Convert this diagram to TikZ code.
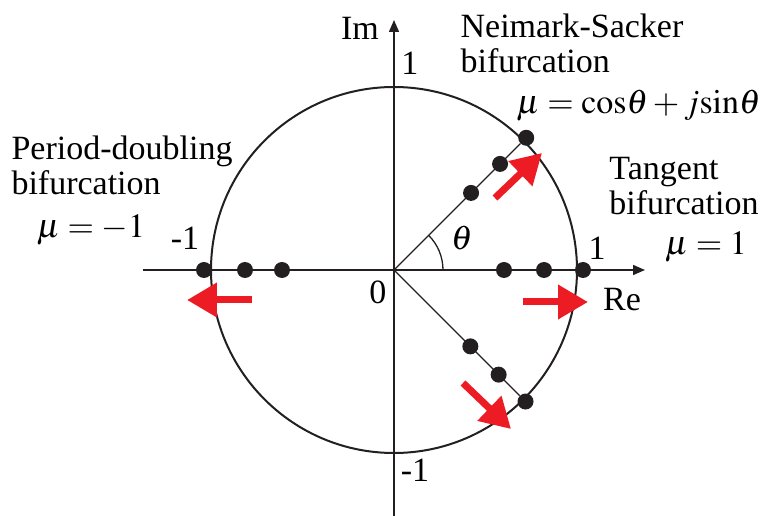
\documentclass[tikz,border=0pt]{standalone}
\usepackage[no-math]{fontspec}
\setmainfont{Liberation Serif}
\usepackage{mathptmx}
\setmainfont{Liberation Serif}
\usetikzlibrary{arrows.meta,positioning}
\definecolor{pushred}{RGB}{237,28,36}
\definecolor{dotblack}{RGB}{35,31,32}
\tikzset{
  lbl/.style={font=\fontsize{34}{35}\selectfont, inner sep=0pt, align=left},
  mult/.style={circle, fill=dotblack, minimum size=16pt, inner sep=0pt},
  axis/.style={-{Triangle[length=12pt,width=10pt]}, line width=1.5pt, draw=dotblack},
  ray/.style={line width=1.3pt, draw=dotblack},
  push/.style={-{Triangle[length=30pt,width=33pt]}, line width=7pt, draw=pushred}
}

\begin{document}
\begin{tikzpicture}[x=1pt, y=1pt]
  \useasboundingbox (-394,-246) rectangle (369,270);
  \coordinate (O) at (0,0);
  \coordinate (xl) at (-251,0);
  \coordinate (xr) at (251,0);
  \coordinate (yb) at (0,-246);
  \coordinate (yt) at (0,250);

  % unit circle and axes
  \draw[line width=2pt, draw=dotblack] (O) circle (183);
  \draw[axis] (xl) -- (xr);
  \draw[axis] (yb) -- (yt);

  % multipliers
  \node[mult] (r1) at (110,0) {};
  \node[mult] (r2) at (150,0) {};
  \node[mult] (r3) at (189,0) {};
  \node[mult] (l1) at (-112,0) {};
  \node[mult] (l2) at (-149,0) {};
  \node[mult] (l3) at (-190,0) {};
  \node[mult] (u1) at (45:109) {};
  \node[mult] (u2) at (45:150) {};
  \node[mult] (u3) at (45:187) {};
  \node[mult] (d1) at (-45:108) {};
  \node[mult] (d2) at (-45:148) {};
  \node[mult] (d3) at (-45:186) {};

  \draw[ray] (O) -- (u3);
  \draw[ray] (O) -- (d3);
  \draw[ray] (49,0) arc (0:45:49);

  % labels
  \node[lbl] (im) at (-34,242) {Im};
  \node[lbl] (re) at (228,-30) {Re};
  \node[lbl] (zero) at (-16,-22) {0};
  \node[lbl] (top) at (16,207) {1};
  \node[lbl] (bot) at (21,-200) {-1};
  \node[lbl] (lft) at (-209,32) {-1};
  \node[lbl] (rgt) at (203,22) {1};
  \node[lbl] (th) at (68,32) {$\theta$};
  \node[lbl] (ns) at (178,227) {Neimark-Sacker\\bifurcation};
  \node[lbl, anchor=east] (nsmu) at (367,164) {$\mu=\mathrm{cos}\theta+j\mathrm{sin}\theta$};
  \node[lbl] (pd) at (-272,105) {Period-doubling\\bifurcation};
  \node[lbl] (pdmu) at (-303,40) {$\mu=-1$};
  \node[lbl] (tg) at (290,84) {Tangent\\bifurcation};
  \node[lbl] (tgmu) at (312,23) {$\mu=1$};

  % directions of crossing
  \coordinate (pdtail) at (-142,-30);
  \coordinate (pdtip) at (-207,-30);
  \coordinate (tgtail) at (129,-32);
  \coordinate (tgtip) at (194,-32);
  \coordinate (nstail) at (101,72);
  \coordinate (nstip) at (148,117);
  \coordinate (nbtail) at (69,-113);
  \coordinate (nbtip) at (117,-159);

  \draw[push] (pdtail) -- (pdtip);
  \draw[push] (tgtail) -- (tgtip);
  \draw[push] (nstail) -- (nstip);
  \draw[push] (nbtail) -- (nbtip);
\end{tikzpicture}
\end{document}
